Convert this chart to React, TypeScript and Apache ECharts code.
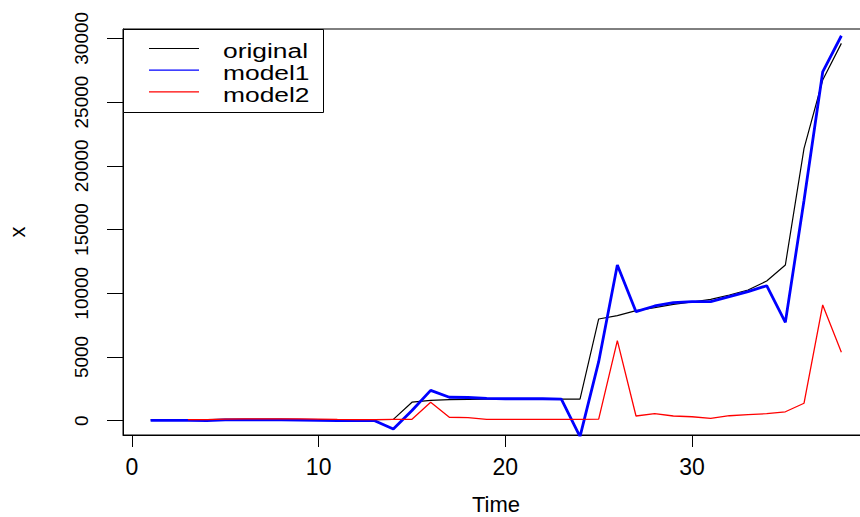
import React, { useEffect, useRef } from "react";
import * as echarts from "echarts";

const times = [1, 2, 3, 4, 5, 6, 7, 8, 9, 10, 11, 12, 13, 14, 15, 16, 17, 18, 19, 20, 21, 22, 23, 24, 25, 26, 27, 28, 29, 30, 31, 32, 33, 34, 35, 36, 37, 38];
const original = [60, 60, 70, 80, 100, 110, 110, 100, 90, 80, 70, 70, 80, 100, 1450, 1600, 1650, 1680, 1700, 1700, 1700, 1700, 1700, 1700, 7980, 8240, 8630, 8870, 9130, 9310, 9520, 9860, 10250, 10960, 12220, 21370, 26730, 29600];
const model1 = [20, 30, 20, 10, 60, 70, 70, 60, 50, 20, 0, 0, 0, -650, 800, 2380, 1840, 1820, 1750, 1720, 1720, 1720, 1700, -1250, 4630, 12220, 8550, 9000, 9260, 9340, 9340, 9730, 10120, 10590, 7720, 17300, 27360, 30200];
const model2Times = [3, 4, 5, 6, 7, 8, 9, 10, 11, 12, 13, 14, 15, 16, 17, 18, 19, 20, 21, 22, 23, 24, 25, 26, 27, 28, 29, 30, 31, 32, 33, 34, 35, 36, 37, 38];
const model2 = [80, 90, 120, 140, 150, 150, 140, 120, 100, 90, 90, 100, 110, 1440, 270, 235, 110, 100, 100, 100, 100, 100, 130, 6280, 370, 550, 370, 310, 190, 390, 470, 550, 700, 1370, 9080, 5370];
const xTicks = [0, 10, 20, 30];
const yTicks = [0, 5000, 10000, 15000, 20000, 25000, 30000];
const legendNames = ["original", "model1", "model2"];
const legendColors = ["#000000", "#0000ff", "#ff0000"];

const FONT = "'Liberation Sans', Arial, Helvetica, sans-serif";

export default function App() {
  const ref = useRef<HTMLDivElement>(null);
  useEffect(() => {
    if (!ref.current) return;
    const chart = echarts.init(ref.current, null, { renderer: "svg" });
    const legendGraphics: any[] = [
      {
        type: "rect",
        shape: { x: 123.5, y: 29.5, width: 200, height: 83 },
        style: { fill: "#ffffff", stroke: "#000000", lineWidth: 1 },
        z: 100,
      },
    ];
    legendNames.forEach((name, i) => {
      const y = 48.5 + i * 21.7;
      legendGraphics.push({
        type: "line",
        shape: { x1: 149, y1: y, x2: 199, y2: y },
        style: { stroke: legendColors[i], lineWidth: 1.2 },
        z: 101,
      });
      legendGraphics.push({
        type: "text",
        x: 223,
        y: y + 3,
        scaleX: 1.32,
        style: {
          text: name,
          fontSize: 20,
          fontFamily: FONT,
          fill: "#000000",
          verticalAlign: "middle",
          align: "left",
        },
        z: 101,
      });
    });
    chart.setOption({
      animation: false,
      backgroundColor: "#ffffff",
      textStyle: { fontFamily: FONT },
      grid: {
        left: 123,
        top: 29,
        width: 746,
        height: 406,
        show: true,
        borderColor: "#000000",
        borderWidth: 1,
        backgroundColor: "transparent",
        containLabel: false,
        outerBoundsMode: "none",
      },
      xAxis: {
        type: "value",
        min: -0.48,
        max: 39.48,
        name: "Time",
        nameLocation: "middle",
        nameGap: 58,
        nameTextStyle: { fontSize: 22, color: "#000", fontFamily: FONT },
        axisLine: { show: true, onZero: false, lineStyle: { color: "#000", width: 1 } },
        axisTick: { show: true, length: 12, customValues: xTicks, lineStyle: { color: "#000" } },
        axisLabel: { customValues: xTicks, fontSize: 23, color: "#000", margin: 20, fontFamily: FONT, formatter: (v: number) => String(v) },
        splitLine: { show: false },
      },
      yAxis: {
        type: "value",
        min: -1122,
        max: 30729,
        name: "x",
        nameLocation: "middle",
        nameGap: 95,
        nameRotate: 90,
        nameTextStyle: { fontSize: 22, color: "#000", fontFamily: FONT },
        axisLine: { show: true, onZero: false, lineStyle: { color: "#000", width: 1 } },
        axisTick: { show: true, length: 16, customValues: yTicks, lineStyle: { color: "#000" } },
        axisLabel: { customValues: yTicks, fontSize: 19, color: "#000", margin: 32, rotate: 90, fontFamily: FONT, formatter: (v: number) => String(v) },
        splitLine: { show: false },
      },
      series: [
        {
          name: "original",
          type: "line",
          data: times.map((t, i) => [t, original[i]]),
          showSymbol: false,
          lineStyle: { color: "#000000", width: 1.2 },
          clip: true,
          z: 2,
        },
        {
          name: "model1",
          type: "line",
          data: times.map((t, i) => [t, model1[i]]),
          showSymbol: false,
          lineStyle: { color: "#0000ff", width: 2.8 },
          clip: true,
          z: 3,
        },
        {
          name: "model2",
          type: "line",
          data: model2Times.map((t, i) => [t, model2[i]]),
          showSymbol: false,
          lineStyle: { color: "#ff0000", width: 1.3 },
          clip: true,
          z: 4,
        },
      ],
      graphic: legendGraphics,
    });
    return () => chart.dispose();
  }, []);
  return (
    <div
      ref={ref}
      style={{ position: "fixed", left: 0, top: 0, width: 860, height: 517, background: "#fff" }}
    />
  );
}
